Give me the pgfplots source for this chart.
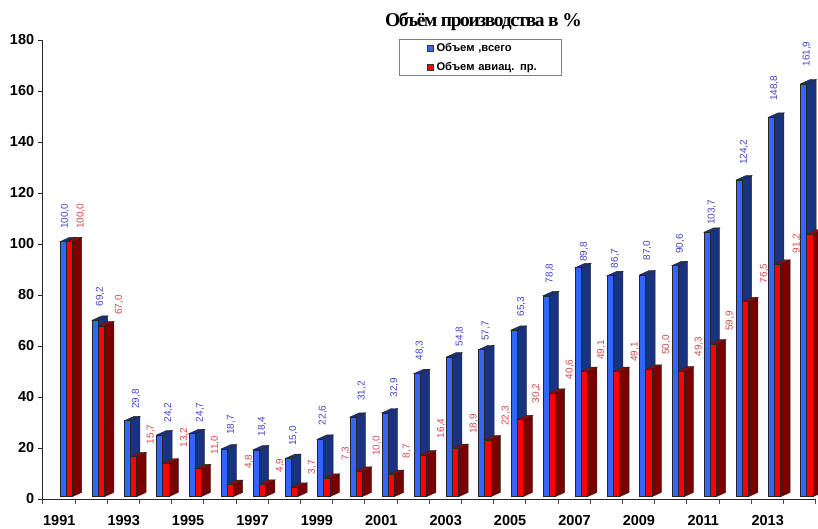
\documentclass[border=0pt]{standalone}
\usepackage{fontspec}
\setmainfont{Liberation Sans}
\newfontfamily\titlefont[LetterSpace=-7]{Liberation Serif}
\usepackage{pgfplots}
\usepackage{pgfplotstable}
\pgfplotsset{compat=1.18}
\definecolor{bfront}{HTML}{3366FF}
\definecolor{bside}{HTML}{1A3380}
\definecolor{rfront}{HTML}{FF0000}
\definecolor{rside}{HTML}{7A0000}
\definecolor{rtop}{HTML}{9A0808}
\definecolor{bl}{HTML}{4242C8}
\definecolor{rl}{HTML}{D84848}
\pgfdeclareplotmark{nil}{}
\newcommand\threebar[5]{%
  \pgfmathsetmacro\bt{2.3-\v*2.55}%
  \pgfmathsetmacro\bk{\bt+4.3}%
  \pgfmathsetmacro\rr{#2+9.5}%
  \pgfmathsetmacro\lr{#1+9.5}%
  \path[draw=black!85,line width=.45pt,fill=#4] (#2pt,2.3pt)--(\rr pt,6.6pt)--(\rr pt,\bk pt)--(#2pt,\bt pt)--cycle;
  \path[draw=black!85,line width=.45pt,fill=#5] (#1pt,2.3pt)--(#2pt,2.3pt)--(\rr pt,6.6pt)--(\lr pt,6.6pt)--cycle;
  \path[draw=black!85,line width=.45pt,fill=#3] (#1pt,\bt pt) rectangle (#2pt,2.3pt);
}
\pgfplotstableread{
year blue red
1991 100.0 100.0
1992 69.2 67.0
1993 29.8 15.7
1994 24.2 13.2
1995 24.7 11.0
1996 18.7 4.8
1997 18.4 4.9
1998 15.0 3.7
1999 22.6 7.3
2000 31.2 10.0
2001 32.9 8.7
2002 48.3 16.4
2003 54.8 18.9
2004 57.7 22.3
2005 65.3 30.2
2006 78.8 40.6
2007 89.8 49.1
2008 86.7 49.1
2009 87.0 50.0
2010 90.6 49.3
2011 103.7 59.9
2012 124.2 76.5
2013 148.8 91.2
2014 161.9 103.0
}\bars
% label positions in the reference's pixels
\pgfplotstableread{
px py val
65 229 100.0
100 306.7 69.2
136 409 29.8
168.3 422.7 24.2
200 422.3 24.7
231 435 18.7
262 436.7 18.4
293.3 446 15.0
322.7 425.3 22.6
361.7 401 31.2
394.3 397.7 32.9
419.7 360.7 48.3
459.7 346.3 54.8
485.7 341 57.7
521.3 316.7 65.3
549.7 283.3 78.8
584 262 89.8
615 268.3 86.7
647.3 260.7 87.0
680 254 90.6
711.7 225 103.7
744 165 124.2
774.3 101 148.8
806.7 66.7 161.9
}\bluelabels
\pgfplotstableread{
px py val
80.7 229 100.0
119 315 67.0
150.7 444.3 15.7
184.3 447.7 13.2
215 455 11.0
249 469 4.8
280 472.7 4.9
312 474.3 3.7
345.7 460.7 7.3
376.7 456 10.0
406.7 458.3 8.7
441.3 438.3 16.4
473.7 434 18.9
505.7 426 22.3
536.3 403.3 30.2
569.7 379.3 40.6
601.3 360 49.1
634.7 362 49.1
666.3 355 50.0
698.7 356.7 49.3
729.7 331 59.9
764 283.3 76.5
796.7 253.3 91.2
}\redlabels
\begin{document}
\begin{tikzpicture}[x=1pt,y=1pt]
\path[use as bounding box] (0,0) rectangle (818,529);
\clip (0,0) rectangle (818,529);
\begin{axis}[
  at={(42.7pt,30pt)},anchor=origin,
  x=32.2pt,y=2.55pt,
  xmin=0,xmax=24,ymin=0,ymax=180,
  clip=false,
  axis x line*=bottom,axis y line*=left,
  axis line style={-,black!85,line width=.8pt},
  tick align=outside,
  ytick={0,20,...,180},
  xtick={0.5,2.5,...,22.5},
  xticklabels={1991,1993,1995,1997,1999,2001,2003,2005,2007,2009,2011,2013},
  minor xtick={0,1,...,24},
  major x tick style={draw=none},
  minor x tick style={black!70,line width=.7pt},
  major y tick style={black!85,line width=.7pt},
  major tick length=4.5pt,
  minor tick length=5.5pt,
  tick label style={font=\bfseries\fontsize{14.5}{15}\selectfont},
  xticklabel style={yshift=-8.5pt,xshift=0.5pt},
  yticklabel style={xshift=-0.5pt},
  /pgf/number format/assume math mode=true,
  title={\titlefont\bfseries\fontsize{19.5}{19}\selectfont Объём производства в \%},
  title style={at={(axis description cs:0.5703,1.0435)},anchor=center,yshift=-8pt},
  legend style={at={(axis cs:11.075,180.4)},anchor=north west,draw=gray,line width=.8pt,
    font=\bfseries\fontsize{11.2}{12}\selectfont,
    inner xsep=0pt,inner ysep=3.5pt,row sep=9.5pt,
    nodes={text width=125pt,anchor=west,inner sep=0pt}},
  legend cell align=left,
  legend image code/.code={
    \path (0,0) (28pt,0);
    \path[draw=black!80,line width=.4pt,fill=#1] (27.5pt,-3pt) rectangle (33.5pt,3pt);
    \path (36pt,0);
  },
]
\addlegendimage{bfront}
\addlegendentry{Объем ,всего}
\addlegendimage{rfront}
\addlegendentry{Объем авиац. пр.}
\addplot[forget plot,scatter,only marks,mark=nil,
  visualization depends on={y \as \v},
  scatter/@pre marker code/.code={\threebar{-6}{0}{bfront}{bside}{bside}},
  scatter/@post marker code/.code={}]
  table[x expr=\thisrow{year}-1991+0.7236,y=blue]{\bars};
\addplot[forget plot,scatter,only marks,mark=nil,
  visualization depends on={y \as \v},
  scatter/@pre marker code/.code={\threebar{0}{6.2}{rfront}{rside}{rtop}},
  scatter/@post marker code/.code={}]
  table[x expr=\thisrow{year}-1991+0.7236,y=red]{\bars};
\addplot[forget plot,draw=none,mark=none,point meta=explicit,
  nodes near coords={\pgfmathprintnumber[use comma,fixed,fixed zerofill,precision=1]{\pgfplotspointmeta}},
  every node near coord/.append style={rotate=90,anchor=west,inner sep=0pt,text=bl,font=\fontsize{10}{10}\selectfont}]
  table[x expr=(\thisrow{px}-42.7)/32.2,y expr=(499-\thisrow{py})/2.55,meta=val]{\bluelabels};
\addplot[forget plot,draw=none,mark=none,point meta=explicit,
  nodes near coords={\pgfmathprintnumber[use comma,fixed,fixed zerofill,precision=1]{\pgfplotspointmeta}},
  every node near coord/.append style={rotate=90,anchor=west,inner sep=0pt,text=rl,font=\fontsize{10}{10}\selectfont}]
  table[x expr=(\thisrow{px}-42.7)/32.2,y expr=(499-\thisrow{py})/2.55,meta=val]{\redlabels};
\end{axis}
\end{tikzpicture}
\end{document}
